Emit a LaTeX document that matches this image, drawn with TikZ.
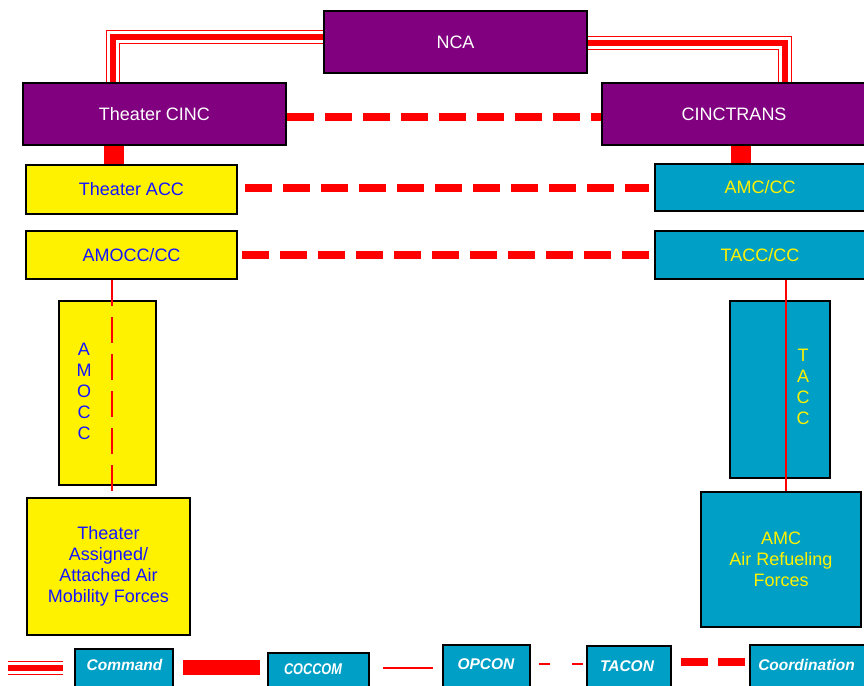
\documentclass[tikz,border=0pt]{standalone}
\usepackage{fontspec}
\setmainfont{Liberation Sans}
\usepackage{tikz}

\definecolor{ncapurple}{RGB}{128,0,128}
\definecolor{amccyan}{RGB}{0,160,198}
\definecolor{accblue}{RGB}{20,20,255}

\tikzset{
  boxtext/.style={inner sep=0pt, align=center, font=\fontsize{18}{21}\selectfont},
  box/.style={boxtext, draw=black, line width=2pt},
  cincbox/.style={box, fill=ncapurple, text=white},
  accbox/.style={box, fill=yellow, text=accblue},
  amcbox/.style={box, fill=amccyan, text=yellow},
  legendbox/.style={draw=black, line width=2pt, fill=amccyan, anchor=north, minimum height=50pt},
  legendtext/.style={text=white, font=\fontsize{15.5}{18}\selectfont\bfseries\itshape},
  command/.style={draw=red, line width=14.5pt, line join=miter, postaction={draw=white, line width=11.5pt}, postaction={draw=red, line width=5.5pt}},
  coccom/.style={draw=red, line width=20pt},
  opcon/.style={draw=red, line width=2pt},
  tacon/.style={draw=red, line width=2pt, dash pattern=on 26pt off 11pt},
  coord/.style={draw=red, line width=8pt, dash pattern=on 27pt off 11pt}
}

\begin{document}
\begin{tikzpicture}[x=1pt,y=-1pt]

\useasboundingbox (0,0) rectangle (864,685);
\clip (0,0) rectangle (864,685);

% command level
\node[cincbox, minimum width=263pt, minimum height=62pt] (nca) at (455.5,42) {NCA};
\node[cincbox, minimum width=263pt, minimum height=62pt] (cinc) at (154.5,114) {Theater CINC};
\node[cincbox, minimum width=264pt, minimum height=62pt] (cinctrans) at (734,114) {CINCTRANS};

% theater side
\node[accbox, minimum width=211pt, minimum height=49pt] (tacc) at (131.5,189.5) {Theater ACC};
\node[accbox, minimum width=211pt, minimum height=48pt] (amocccc) at (131.5,255) {AMOCC/CC};
\node[accbox, minimum width=97pt, minimum height=184pt] (amocc) at (107.5,393) {};
\node[boxtext, text=accblue] (amocctxt) at (84,391) {A\\M\\O\\C\\C};
\node[accbox, minimum width=163pt, minimum height=137pt] (assigned) at (108.5,566.5) {Theater\\Assigned/\\Attached Air\\Mobility Forces};

% transportation side
\node[amcbox, minimum width=210pt, minimum height=47pt] (amccc) at (760,187.5) {AMC/CC};
\node[amcbox, minimum width=210pt, minimum height=48pt] (tacccc) at (760,255) {TACC/CC};
\node[amcbox, minimum width=100pt, minimum height=177pt] (taccbox) at (780,389.5) {};
\node[boxtext, text=yellow] (tacctxt) at (803,387) {T\\A\\C\\C};
\node[amcbox, minimum width=160pt, minimum height=135pt] (refuel) at (781,559.5) {AMC\\Air Refueling\\Forces};

\coordinate (cmdleft) at (113,37);
\coordinate (cmdright) at (785,43);
\coordinate (coccomL) at (113.5,0);
\coordinate (coccomR) at (741,0);
\coordinate (coordtop) at (0,117);
\coordinate (taconx) at (112,0);
\coordinate (opconx) at (786,0);

\draw[command] (nca.west |- cmdleft) -- (cmdleft) -- (cmdleft |- cinc.north);
\draw[command] (nca.east |- cmdright) -- (cmdright) -- (cmdright |- cinctrans.north);

\draw[coccom] (coccomL |- cinc.south) -- (coccomL |- tacc.north);
\draw[coccom] (coccomR |- cinctrans.south) -- (coccomR |- amccc.north);

\draw[coord] (coordtop -| cinc.east) -- (coordtop -| cinctrans.west);
\draw[coord, shorten <=7pt, shorten >=5pt] (amccc.west -| tacc.east) -- (amccc.west);
\draw[coord, shorten <=4pt, shorten >=5pt] (tacccc.west -| amocccc.east) -- (tacccc.west);

\draw[tacon] (taconx |- amocccc.south) -- (taconx |- assigned.north);
\draw[opcon] (opconx |- tacccc.south) -- (opconx |- refuel.north);

% legend
\draw[command] (8,668) -- (63,668);
\node[legendbox, minimum width=98pt] (cmdkey) at (124,648) {};
\node[legendtext] (cmdlbl) at (124.5,665) {Command};

\draw[coccom, line width=15pt] (183,667.5) -- (260,667.5);
\node[legendbox, minimum width=101pt] (coccomkey) at (318.5,652) {};
\node[legendtext] (coccomlbl) at (313,669) {\scalebox{0.82}[1]{COCCOM}};

\draw[opcon] (383,668) -- (433,668);
\node[legendbox, minimum width=87pt] (opconkey) at (486.5,644) {};
\node[legendtext] (opconlbl) at (486,664) {OPCON};

\draw[tacon, line width=1.5pt, dash pattern=on 11pt off 22pt] (539,664) -- (583,664);
\node[legendbox, minimum width=84pt] (taconkey) at (629,645) {};
\node[legendtext] (taconlbl) at (627,666.5) {TACON};

\draw[coord, dash pattern=on 27pt off 10pt] (681,662) -- (745,662);
\node[legendbox, minimum width=119pt] (coordkey) at (809.5,644) {};
\node[legendtext] (coordlbl) at (806.5,665) {Coordination};

\end{tikzpicture}
\end{document}
